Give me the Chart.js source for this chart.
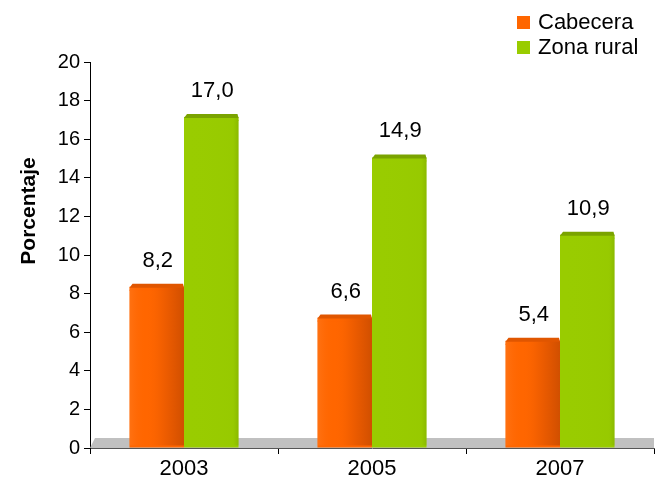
<!DOCTYPE html>
<html>
<head>
<meta charset="utf-8">
<script src="https://cdn.jsdelivr.net/npm/chart.js@4"></script>
<style>
  html, body { margin: 0; padding: 0; background: #fff; }
  #wrap { width: 655px; height: 482px; }
</style>
</head>
<body>
<div id="wrap"><canvas id="barChart"></canvas></div>
<script>
var years = ["2003", "2005", "2007"];
var cabecera = [8.2, 6.6, 5.4];
var zonaRural = [17.0, 14.9, 10.9];
var seriesNames = ["Cabecera", "Zona rural"];
var yTitle = "Porcentaje";

var FONT = "'Liberation Sans', Arial, sans-serif";
var colors = {
  orange: '#FF6600',
  orangeCap: '#E05600',
  green: '#99CC00',
  greenCap: '#7AA300',
  floor: '#C0C0C0'
};

function fmt(v) {
  return v.toFixed(1).replace('.', ',');
}

// gray floor under the bars
var floorPlugin = {
  id: 'floor',
  beforeDatasetsDraw: function(chart) {
    var ctx = chart.ctx, a = chart.chartArea;
    ctx.save();
    ctx.fillStyle = colors.floor;
    ctx.beginPath();
    ctx.moveTo(a.left, a.bottom);
    ctx.lineTo(a.left + 5, a.bottom - 10);
    ctx.lineTo(a.right, a.bottom - 10);
    ctx.lineTo(a.right, a.bottom);
    ctx.closePath();
    ctx.fill();
    ctx.restore();
  }
};

// shading, caps and value labels on the bars
var barLook = {
  id: 'barLook',
  afterDatasetsDraw: function(chart) {
    var ctx = chart.ctx;
    chart.data.datasets.forEach(function(ds, di) {
      var meta = chart.getDatasetMeta(di);
      meta.data.forEach(function(el, i) {
        var p = el.getProps(['x', 'y', 'base', 'width'], true);
        var l = p.x - p.width / 2, r = p.x + p.width / 2;
        ctx.save();
        // body a little taller, like the 3d bars
        ctx.fillStyle = ds.backgroundColor;
        ctx.fillRect(l, p.y - 3, p.width, 4);
        var g = ctx.createLinearGradient(l, 0, r, 0);
        if (di === 0) {
          g.addColorStop(0, 'rgba(255,140,60,0.3)');
          g.addColorStop(0.3, 'rgba(255,102,0,0)');
          g.addColorStop(0.55, 'rgba(180,60,0,0.12)');
          g.addColorStop(1, 'rgba(170,60,0,0.55)');
        } else {
          g.addColorStop(0, 'rgba(153,204,0,0)');
          g.addColorStop(0.9, 'rgba(120,160,0,0.05)');
          g.addColorStop(1, 'rgba(110,150,0,0.35)');
        }
        ctx.fillStyle = g;
        ctx.fillRect(l, p.y - 3, p.width, p.base - p.y + 1);
        // top cap
        ctx.fillStyle = di === 0 ? colors.orangeCap : colors.greenCap;
        ctx.beginPath();
        ctx.moveTo(l, p.y - 2);
        ctx.lineTo(l + 3, p.y - 6);
        ctx.lineTo(r - 1, p.y - 6);
        ctx.lineTo(r, p.y - 2);
        ctx.closePath();
        ctx.fill();
        // label
        ctx.fillStyle = '#000';
        ctx.font = '22px ' + FONT;
        ctx.textAlign = 'center';
        ctx.textBaseline = 'middle';
        ctx.fillText(fmt(ds.data[i]), p.x + 1, p.y - 29);
        ctx.restore();
      });
    });
  }
};

// legend in the top right corner and the axis title
var legendBox = {
  id: 'legendBox',
  afterDraw: function(chart) {
    var ctx = chart.ctx;
    ctx.save();
    ctx.font = '22px ' + FONT;
    ctx.textBaseline = 'middle';
    ctx.textAlign = 'left';
    chart.data.datasets.forEach(function(ds, i) {
      var y = 22 + i * 25;
      ctx.fillStyle = ds.backgroundColor;
      ctx.fillRect(517, y - 6, 13, 13);
      ctx.fillStyle = '#000';
      ctx.fillText(ds.label, 538, y + 1);
    });
    // y title sits above the middle of the axis, as in the source
    ctx.translate(29, 211);
    ctx.rotate(-Math.PI / 2);
    ctx.font = 'bold 21px ' + FONT;
    ctx.textAlign = 'center';
    ctx.fillText(yTitle, 0, 0);
    ctx.restore();
  }
};

var ctx = document.getElementById("barChart").getContext("2d");
var myChart = new Chart(ctx, {
  type: 'bar',
  data: {
    labels: years,
    datasets: [{
      label: seriesNames[0],
      data: cabecera,
      backgroundColor: colors.orange,
      borderWidth: 0
    }, {
      label: seriesNames[1],
      data: zonaRural,
      backgroundColor: colors.green,
      borderWidth: 0
    }]
  },
  options: {
    responsive: true,
    maintainAspectRatio: false,
    animation: false,
    layout: { padding: { top: 62, right: 1, left: 0, bottom: 0 } },
    datasets: {
      bar: { categoryPercentage: 0.58, barPercentage: 1.0 }
    },
    plugins: {
      legend: { display: false },
      tooltip: { enabled: false }
    },
    scales: {
      x: {
        grid: { display: true, drawOnChartArea: false, offset: true, tickLength: 6, color: '#000' },
        border: { display: true, color: '#555', width: 1 },
        ticks: { color: '#000', font: { family: FONT, size: 22 }, padding: 2 },
        afterFit: function(s) { s.height = 34; }
      },
      y: {
        min: 0,
        max: 20,
        ticks: { stepSize: 2, color: '#000', font: { family: FONT, size: 20 }, padding: 4 },
        grid: { display: true, drawOnChartArea: false, tickLength: 6, color: '#000' },
        border: { display: true, color: '#000', width: 1 },
        title: { display: false },
        afterFit: function(s) { s.width = 90; }
      }
    }
  },
  plugins: [floorPlugin, barLook, legendBox]
});
</script>
</body>
</html>
